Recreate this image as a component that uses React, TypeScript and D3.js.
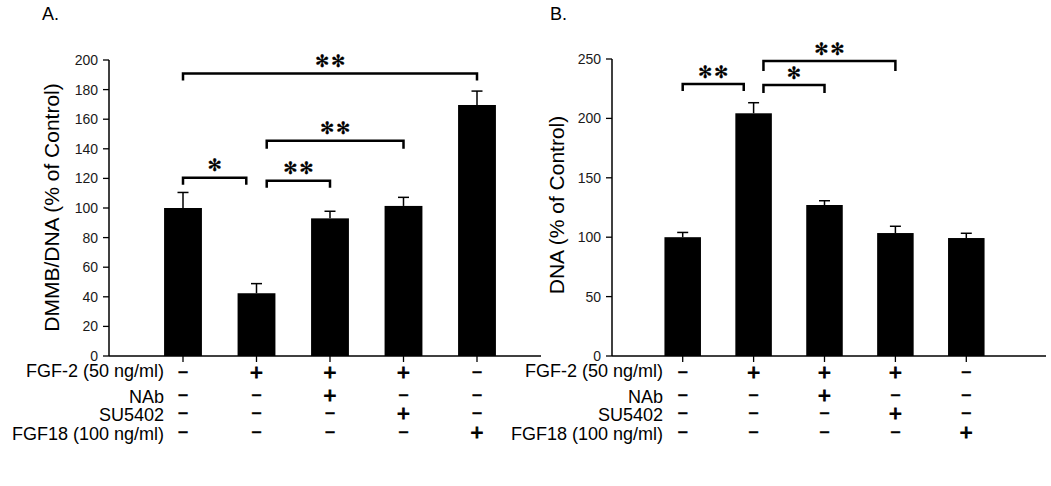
import React from "react";
import * as d3 from "d3";

// ---------- data ----------
const groups = ["g1", "g2", "g3", "g4", "g5"];
const conditionLabels = ["FGF-2 (50 ng/ml)", "NAb", "SU5402", "FGF18 (100 ng/ml)"];
const fgf2Row = ["-", "+", "+", "+", "-"];
const nabRow = ["-", "-", "+", "-", "-"];
const su5402Row = ["-", "-", "-", "+", "-"];
const fgf18Row = ["-", "-", "-", "-", "+"];
const conditionRows = [fgf2Row, nabRow, su5402Row, fgf18Row];

const dmmbValues = [100, 42.4, 93, 101.4, 169.6];
const dmmbErrors = [10.5, 6.5, 4.8, 5.8, 9.4];
const dmmbTicks = [0, 20, 40, 60, 80, 100, 120, 140, 160, 180, 200];

const dnaValues = [100, 204.3, 127.1, 103.5, 99.3];
const dnaErrors = [4, 8.9, 3.6, 5.7, 4];
const dnaTicks = [0, 50, 100, 150, 200, 250];

// brackets: from/to group index, side shift (-1 left, 0 centre, 1 right), level in data units
const dmmbBrackets = [
  { from: 0, fromSide: 0, to: 4, toSide: 0, level: 190.8, label: "**" },
  { from: 0, fromSide: 0, to: 1, toSide: -1, level: 120.4, label: "*" },
  { from: 1, fromSide: 1, to: 2, toSide: 0, level: 118.4, label: "**" },
  { from: 1, fromSide: 1, to: 3, toSide: 0, level: 145.5, label: "**" },
];
const dnaBrackets = [
  { from: 0, fromSide: 0, to: 1, toSide: -1, level: 229, label: "**" },
  { from: 1, fromSide: 1, to: 2, toSide: 0, level: 228.1, label: "*" },
  { from: 1, fromSide: 1, to: 3, toSide: 0, level: 248.3, label: "**" },
];

const FONT = "'Liberation Sans', Arial, sans-serif";
const STAR = "\u273B";

type Bracket = { from: number; fromSide: number; to: number; toSide: number; level: number; label: string };

type PanelProps = {
  letter: string;
  letterX: number;
  yLabel: string;
  yLabelX: number;
  yLabelY: number;
  values: number[];
  errors: number[];
  ticks: number[];
  yMax: number;
  yTop: number;
  axisX: number;
  axisEnd: number;
  firstX: number;
  lastX: number;
  rowLabelX: number;
  brackets: Bracket[];
  legLens: number[];
};

const Y0 = 356;
const rowBaselines = [377, 403, 421, 440];
const signCenters = [372.5, 395, 413, 432];

function Panel(p: PanelProps) {
  const y = d3.scaleLinear().domain([0, p.yMax]).range([Y0, p.yTop]);
  const x = d3.scalePoint<string>().domain(groups).range([p.firstX, p.lastX]);
  const step = x.step();
  const bw = step * 0.515;
  const shift = bw * 0.27;

  return (
    <g>
      <text x={p.letterX} y={20} fontSize={18} fontFamily={FONT}>{p.letter}</text>
      <text
        transform={`translate(${p.yLabelX},${p.yLabelY}) rotate(-90)`}
        textAnchor="middle"
        fontSize={21}
        fontFamily={FONT}
      >
        {p.yLabel}
      </text>
      {/* y axis */}
      <line x1={p.axisX} x2={p.axisX} y1={y(p.yMax)} y2={Y0} stroke="#000" strokeWidth={1.5} />
      {p.ticks.map((t) => (
        <g key={t}>
          <line x1={p.axisX - 6} x2={p.axisX} y1={y(t)} y2={y(t)} stroke="#000" strokeWidth={1.3} />
          <text x={p.axisX - 11} y={y(t)} dy="0.36em" textAnchor="end" fontSize={14} fontFamily={FONT} fill="#1a1a1a">
            {t}
          </text>
        </g>
      ))}
      {/* bars */}
      {groups.map((g, i) => (
        <g key={g}>
          <line x1={x(g)!} x2={x(g)!} y1={y(p.values[i])} y2={y(p.values[i] + p.errors[i])} stroke="#000" strokeWidth={1.5} />
          <line x1={x(g)! - 5.5} x2={x(g)! + 5.5} y1={y(p.values[i] + p.errors[i])} y2={y(p.values[i] + p.errors[i])} stroke="#000" strokeWidth={1.5} />
          <rect x={x(g)! - bw / 2} y={y(p.values[i])} width={bw} height={Y0 - y(p.values[i])} fill="#000" />
          <line x1={x(g)!} x2={x(g)!} y1={Y0} y2={Y0 + 6} stroke="#000" strokeWidth={1.3} />
        </g>
      ))}
      {/* x axis */}
      <line x1={p.axisX} x2={p.axisEnd} y1={Y0} y2={Y0} stroke="#000" strokeWidth={1.5} />
      {/* brackets */}
      {p.brackets.map((b, i) => {
        const x1 = x(groups[b.from])! + b.fromSide * shift;
        const x2 = x(groups[b.to])! + b.toSide * shift;
        const yy = y(b.level);
        const leg = p.legLens[i];
        const n = b.label.length;
        return (
          <g key={i}>
            <path
              d={`M${x1},${yy + leg} V${yy} H${x2} V${yy + leg}`}
              fill="none"
              stroke="#000"
              strokeWidth={2.5}
            />
            {b.label.split("").map((_, k) => (
              <text
                key={k}
                x={(x1 + x2) / 2 + (k - (n - 1) / 2) * 16}
                y={yy - 12.5}
                dy="0.36em"
                textAnchor="middle"
                fontSize={17}
                fontFamily="'DejaVu Sans', sans-serif"
                stroke="#000"
                strokeWidth={0.4}
              >
                {STAR}
              </text>
            ))}
          </g>
        );
      })}
      {/* condition table */}
      {conditionLabels.map((lab, r) => (
        <text key={lab} x={p.rowLabelX} y={rowBaselines[r]} textAnchor="end" fontSize={18} fontFamily={FONT}>
          {lab}
        </text>
      ))}
      {conditionRows.map((row, r) =>
        row.map((s, i) => (
          <text
            key={`${r}-${i}`}
            x={x(groups[i])!}
            y={s === "+" ? signCenters[r] + 7.8 : signCenters[r] + 5.6}
            textAnchor="middle"
            fontSize={s === "+" ? 22 : 18}
            fontFamily={FONT}
            stroke="#000"
            strokeWidth={s === "+" ? 1 : 0.5}
          >
            {s === "+" ? "+" : "\u2212"}
          </text>
        ))
      )}
    </g>
  );
}

export default function App() {
  return (
    <div style={{ position: "absolute", left: 0, top: 0 }}>
      <svg width={1051} height={486} style={{ display: "block", background: "#fff" }}>
        <rect width={1051} height={486} fill="#fff" />
        <Panel
          letter="A."
          letterX={42}
          yLabel="DMMB/DNA (% of Control)"
          yLabelX={58.5}
          yLabelY={207.5}
          values={dmmbValues}
          errors={dmmbErrors}
          ticks={dmmbTicks}
          yMax={200}
          yTop={60}
          axisX={109}
          axisEnd={541}
          firstX={183}
          lastX={477}
          rowLabelX={164}
          brackets={dmmbBrackets}
          legLens={[7, 7, 7, 8]}
        />
        <Panel
          letter="B."
          letterX={550}
          yLabel="DNA (% of Control)"
          yLabelX={563.5}
          yLabelY={205}
          values={dnaValues}
          errors={dnaErrors}
          ticks={dnaTicks}
          yMax={250}
          yTop={59}
          axisX={612}
          axisEnd={1046}
          firstX={682.7}
          lastX={966.3}
          rowLabelX={663}
          brackets={dnaBrackets}
          legLens={[7, 8, 10]}
        />
      </svg>
    </div>
  );
}
